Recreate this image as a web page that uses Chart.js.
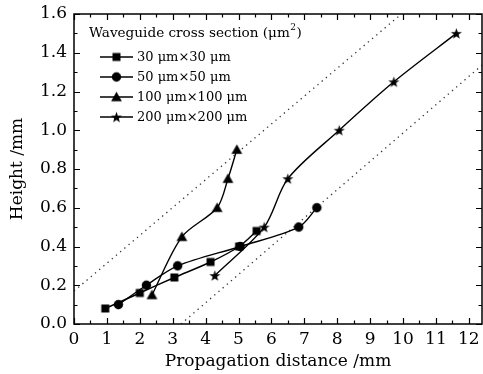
<!DOCTYPE html>
<html><head><meta charset="utf-8">
<script src="https://cdn.jsdelivr.net/npm/chart.js@4/dist/chart.umd.min.js"></script>
<style>html,body{margin:0;padding:0;background:#fff}#wrap{width:483px;height:374px;position:relative}</style>
</head><body><div id="wrap"><canvas id="c" width="483" height="374" style="width:483px;height:374px"></canvas></div>
<script>
// ---- data ----
const legendTitle = 'Waveguide cross section (μm';
const seriesLabels = ['30 μm×30 μm', '50 μm×50 μm', '100 μm×100 μm', '200 μm×200 μm'];
const sq30X = [0.95, 2.0, 3.05, 4.15, 5.02, 5.55];
const sq30Y = [0.08, 0.16, 0.24, 0.32, 0.40, 0.48];
const ci50X = [1.35, 2.2, 3.15, 5.05, 6.83, 7.38];
const ci50Y = [0.10, 0.20, 0.30, 0.40, 0.50, 0.60];
const tr100X = [2.37, 3.28, 4.35, 4.68, 4.95];
const tr100Y = [0.15, 0.45, 0.60, 0.75, 0.90];
const st200X = [4.28, 5.78, 6.5, 8.06, 9.72, 11.62];
const st200Y = [0.25, 0.50, 0.75, 1.00, 1.25, 1.50];
const guideUpperX = [0, 9.95], guideUpperY = [0.17, 1.6];
const guideLowerX = [3.25, 12.4], guideLowerY = [0, 1.336];
const xTickLabels = ['0','1','2','3','4','5','6','7','8','9','10','11','12'];
const yTickLabels = ['0.0','0.2','0.4','0.6','0.8','1.0','1.2','1.4','1.6'];
const xTitle = 'Propagation distance /mm';
const yTitle = 'Height /mm';

const pts = (xs, ys) => xs.map((x, i) => ({x: x, y: ys[i]}));

// ---- marker images ----
function makeMarker(kind) {
  const s = 13, c = document.createElement('canvas');
  c.width = s; c.height = s;
  const g = c.getContext('2d'); g.fillStyle = '#000';
  const m = s / 2;
  g.beginPath();
  if (kind === 'square') { g.rect(m - 4, m - 4, 8, 8); }
  else if (kind === 'circle') { g.arc(m, m, 4.7, 0, Math.PI * 2); }
  else if (kind === 'triangle') { g.moveTo(m, m - 5.2); g.lineTo(m + 5.4, m + 4.2); g.lineTo(m - 5.4, m + 4.2); g.closePath(); }
  else if (kind === 'star') {
    for (let i = 0; i < 10; i++) {
      const r = i % 2 ? 2.3 : 5.8, a = -Math.PI / 2 + i * Math.PI / 5;
      const px = m + r * Math.cos(a), py = m + 0.6 + r * Math.sin(a);
      i ? g.lineTo(px, py) : g.moveTo(px, py);
    }
    g.closePath();
  }
  g.fill();
  return c;
}
const markers = [makeMarker('square'), makeMarker('circle'), makeMarker('triangle'), makeMarker('star')];

function series(label, data, marker) {
  return { label: label, data: data, borderColor: '#000', backgroundColor: '#000', borderWidth: 1.4,
    tension: 0.3, pointStyle: marker, pointRadius: 5, pointHoverRadius: 5, fill: false };
}
function guide(data) {
  return { label: '', data: data, borderColor: '#333', borderWidth: 1.3, borderDash: [1.3, 4.2],
    pointRadius: 0, tension: 0, fill: false, isGuide: true };
}

const framePlugin = {
  id: 'frame',
  afterDraw(chart) {
    const ctx = chart.ctx, a = chart.chartArea, xs = chart.scales.x, ys = chart.scales.y;
    ctx.save();
    ctx.strokeStyle = '#000'; ctx.lineWidth = 1.5;
    ctx.strokeRect(a.left, a.top, a.right - a.left, a.bottom - a.top);
    ctx.lineWidth = 1.2;
    ctx.beginPath();
    for (let v = 0; v <= 12.4 + 1e-9; v += 0.5) {
      const major = Math.abs(v - Math.round(v)) < 1e-6;
      const L = major ? 6 : 3.5, px = Math.round(xs.getPixelForValue(v)) + 0.5;
      ctx.moveTo(px, a.bottom); ctx.lineTo(px, a.bottom - L);
      ctx.moveTo(px, a.top); ctx.lineTo(px, a.top + L);
    }
    for (let k = 0; k <= 16; k++) {
      const v = k / 10, major = k % 2 === 0;
      const L = major ? 6 : 3.5, py = Math.round(ys.getPixelForValue(v)) + 0.5;
      ctx.moveTo(a.left, py); ctx.lineTo(a.left + L, py);
      ctx.moveTo(a.right, py); ctx.lineTo(a.right - L, py);
    }
    ctx.stroke();
    // legend
    ctx.fillStyle = '#000';
    ctx.font = '13.6px "DejaVu Serif"';
    ctx.textBaseline = 'middle'; ctx.textAlign = 'left';
    const tx = 89, ty = 33;
    ctx.fillText(legendTitle, tx, ty);
    let w = ctx.measureText(legendTitle).width;
    ctx.font = '9px "DejaVu Serif"';
    ctx.fillText('2', tx + w + 0.5, ty - 5);
    const w2 = ctx.measureText('2').width;
    ctx.font = '13.6px "DejaVu Serif"';
    ctx.fillText(')', tx + w + w2 + 1, ty);
    ctx.font = '13px "DejaVu Serif"';
    chart.data.datasets.forEach((ds, i) => {
      if (ds.isGuide) return;
      const y = 57 + i * 20;
      ctx.lineWidth = 1.4; ctx.beginPath(); ctx.moveTo(100, y); ctx.lineTo(133, y); ctx.stroke();
      const img = ds.pointStyle;
      ctx.drawImage(img, 116.5 - img.width / 2, y - img.height / 2);
      ctx.fillText(ds.label, 137, y + 0.5);
    });
    ctx.restore();
  }
};

const tickFont = { family: '"DejaVu Serif"', size: 17 };
new Chart(document.getElementById('c'), {
  type: 'line',
  data: {
    datasets: [
      series(seriesLabels[0], pts(sq30X, sq30Y), markers[0]),
      series(seriesLabels[1], pts(ci50X, ci50Y), markers[1]),
      series(seriesLabels[2], pts(tr100X, tr100Y), markers[2]),
      series(seriesLabels[3], pts(st200X, st200Y), markers[3]),
      guide(pts(guideUpperX, guideUpperY)),
      guide(pts(guideLowerX, guideLowerY))
    ]
  },
  options: {
    responsive: false, maintainAspectRatio: false, animation: false, devicePixelRatio: 1,
    layout: { autoPadding: false, padding: { top: 14, right: 1, left: 0, bottom: 0 } },
    plugins: { legend: { display: false }, tooltip: { enabled: false } },
    scales: {
      x: {
        type: 'linear', min: 0, max: 12.4,
        grid: { display: false, drawTicks: false }, border: { display: false },
        ticks: { stepSize: 1, includeBounds: false, autoSkip: false, maxRotation: 0, color: '#000', font: tickFont, padding: 5,
          callback: (v) => xTickLabels[Math.round(v)] },
        title: { display: true, text: xTitle, color: '#000', font: tickFont, padding: { top: 0, bottom: 2 } },
        afterFit(s) { s.height = 50; s.paddingLeft = 0; s.paddingRight = 0; }
      },
      y: {
        type: 'linear', min: 0, max: 1.6,
        grid: { display: false, drawTicks: false }, border: { display: false },
        ticks: { stepSize: 0.2, autoSkip: false, color: '#000', font: tickFont, padding: 7,
          callback: (v) => yTickLabels[Math.round(v * 5)] },
        title: { display: true, text: yTitle, color: '#000', font: tickFont, padding: { top: 7, bottom: 0 } },
        afterFit(s) { s.width = 74; s.paddingTop = 0; s.paddingBottom = 0; }
      }
    }
  },
  plugins: [framePlugin]
});
</script></body></html>
